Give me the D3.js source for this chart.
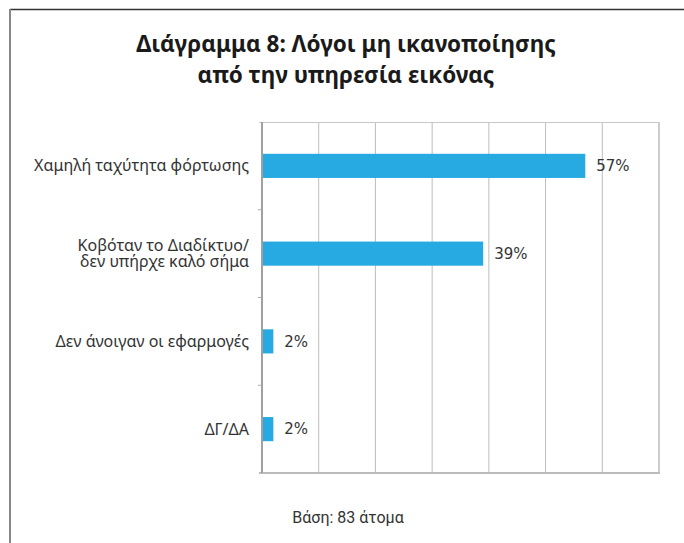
<!DOCTYPE html>
<html>
<head>
<meta charset="utf-8">
<script src="https://cdn.jsdelivr.net/npm/d3@7"></script>
<style>
  body { margin: 0; background: #fff; }
</style>
</head>
<body>
<div id="chart"></div>
<script>
// Data
const categories = [
  ['Χαμηλή ταχύτητα φόρτωσης'],
  ['Κοβόταν το Διαδίκτυο/', 'δεν υπήρχε καλό σήμα'],
  ['Δεν άνοιγαν οι εφαρμογές'],
  ['ΔΓ/ΔΑ']
]
const values = [57, 39, 2, 2]
const xTicks = [0, 10, 20, 30, 40, 50, 60, 70]
const titleLines = ['Διάγραμμα 8: Λόγοι μη ικανοποίησης', 'από την υπηρεσία εικόνας']
const baseNote = 'Βάση: 83 άτομα'

const width = 684
const height = 543
const plot = { left: 262, right: 659, top: 122, bottom: 473 }

const svg = d3.select('#chart')
  .append('svg')
    .attr('width', width)
    .attr('height', height)

// Frame
svg.append('line')
    .attr('x1', 10).attr('x2', width)
    .attr('y1', 9.5).attr('y2', 9.5)
    .attr('stroke', '#333').attr('stroke-width', 1.5)
svg.append('line')
    .attr('x1', 10).attr('x2', 10)
    .attr('y1', 9).attr('y2', height)
    .attr('stroke', '#888').attr('stroke-width', 2)

// Title
svg.append('text')
    .attr('x', 345)
    .attr('y', 52)
    .attr('text-anchor', 'middle')
    .attr('font-family', "'Noto Sans', sans-serif")
    .attr('font-weight', 'bold')
    .attr('font-size', 22.5)
    .attr('fill', '#1a1a1a')
  .selectAll('tspan')
  .data(titleLines)
  .enter()
  .append('tspan')
    .attr('x', 346)
    .attr('dy', (d, i) => i === 0 ? 0 : 31)
    .text(d => d)

// Scales
const x = d3.scaleLinear().domain([0, 70]).range([plot.left, plot.right])
const y = d3.scaleBand()
  .domain(d3.range(categories.length))
  .range([plot.top, plot.bottom])
const barH = y.step() * 0.275

// Gridlines
svg.append('g')
  .selectAll('line')
  .data(xTicks.slice(1))
  .enter()
  .append('line')
    .attr('x1', d => x(d)).attr('x2', d => x(d))
    .attr('y1', plot.top).attr('y2', plot.bottom)
    .attr('stroke', d => d === 70 ? '#999' : '#bdbdbd')
    .attr('stroke-width', 1)

// Top border of plot
svg.append('line')
    .attr('x1', plot.left - 3).attr('x2', plot.right)
    .attr('y1', plot.top + 0.5).attr('y2', plot.top + 0.5)
    .attr('stroke', '#c8c8c8')

// Bottom axis line
svg.append('line')
    .attr('x1', plot.left - 3).attr('x2', plot.right + 1)
    .attr('y1', plot.bottom).attr('y2', plot.bottom)
    .attr('stroke', '#bbb').attr('stroke-width', 2)

// Left axis with tick marks at band boundaries
svg.append('line')
    .attr('x1', plot.left).attr('x2', plot.left)
    .attr('y1', plot.top).attr('y2', plot.bottom)
    .attr('stroke', '#a0a0a0').attr('stroke-width', 2)
svg.append('g')
  .selectAll('line')
  .data(d3.range(1, categories.length))
  .enter()
  .append('line')
    .attr('x1', plot.left - 4).attr('x2', plot.left)
    .attr('y1', d => y(d)).attr('y2', d => y(d))
    .attr('stroke', '#aaa')

// Bars
svg.append('g')
  .selectAll('rect')
  .data(values)
  .enter()
  .append('rect')
    .attr('x', plot.left + 1)
    .attr('y', (d, i) => y(i) + y.bandwidth() / 2 - barH / 2)
    .attr('width', d => x(d) - plot.left - 1)
    .attr('height', barH)
    .attr('fill', '#27a9e1')

// Value labels
svg.append('g')
  .selectAll('text')
  .data(values)
  .enter()
  .append('text')
    .attr('x', d => x(d) + 11)
    .attr('y', (d, i) => y(i) + y.bandwidth() / 2)
    .attr('dy', '0.35em')
    .attr('font-family', "'DejaVu Sans', sans-serif")
    .attr('font-size', 15)
    .attr('fill', '#333')
    .text(d => d + '%')

// Category labels, one text per line
categories.forEach((lines, i) => {
  const yc = y(i) + y.bandwidth() / 2
  lines.forEach((line, k) => {
    svg.append('text')
        .attr('x', 249)
        .attr('y', yc + (k - (lines.length - 1) / 2) * 16.5)
        .attr('dy', '0.35em')
        .attr('text-anchor', 'end')
        .attr('font-family', "'Noto Sans', sans-serif")
        .attr('font-size', 16)
        .attr('fill', '#333')
        .text(line)
  })
})

// Base note
svg.append('text')
    .attr('x', 348)
    .attr('y', 523)
    .attr('text-anchor', 'middle')
    .attr('font-family', "'Liberation Sans Narrow', 'Roboto', sans-serif")
    .attr('font-size', 16)
    .attr('fill', '#333')
    .text(baseNote)
</script>
</body>
</html>
